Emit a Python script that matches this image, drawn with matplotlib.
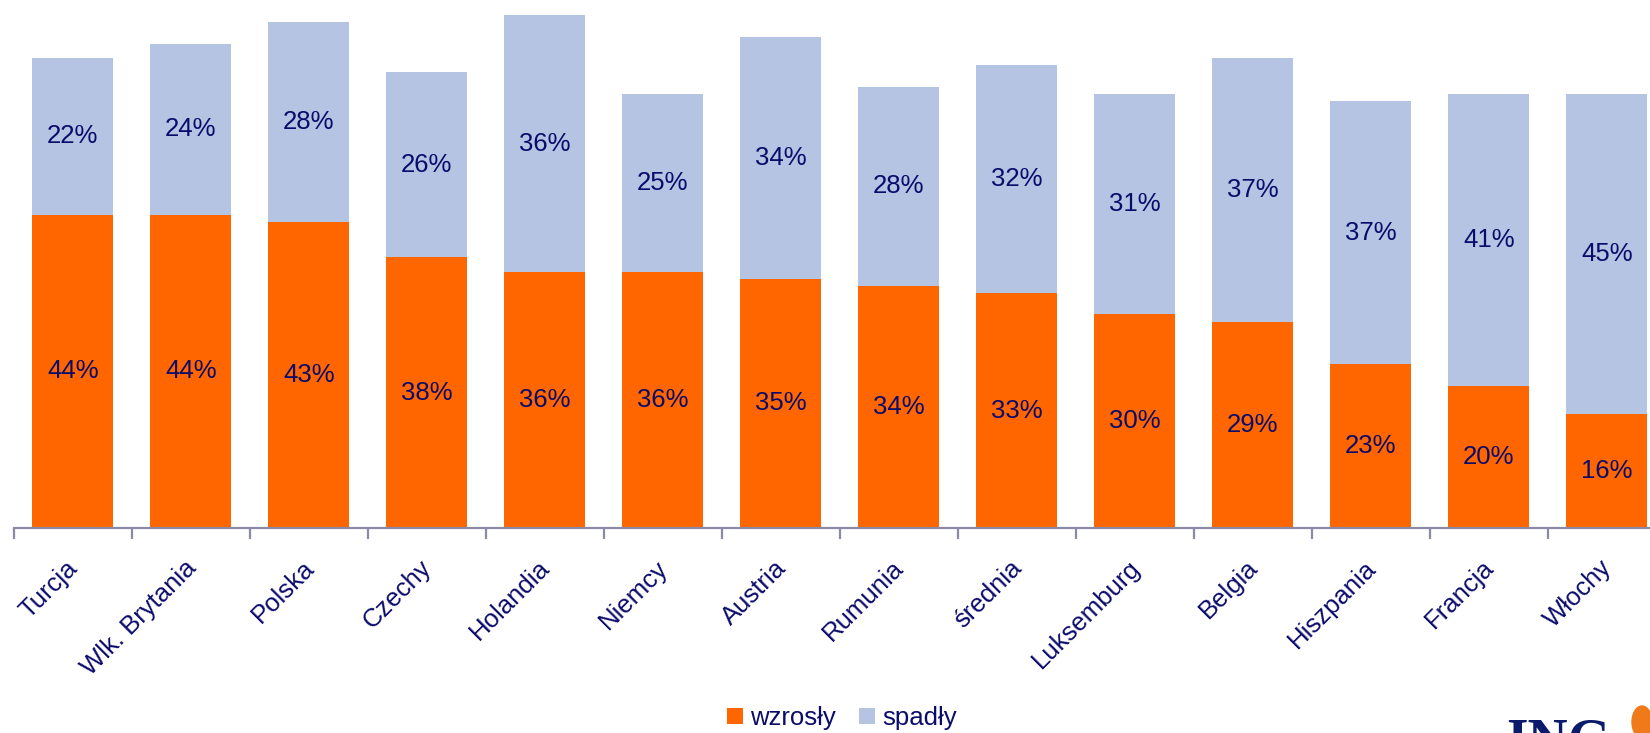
import matplotlib.pyplot as plt
import numpy as np
from matplotlib.patches import Ellipse
import matplotlib.transforms as mtransforms

plt.rcParams['font.family'] = ['Liberation Sans', 'DejaVu Sans']

# data
countries = ['Turcja', 'Wlk. Brytania', 'Polska', 'Czechy', 'Holandia', 'Niemcy',
             'Austria', 'Rumunia', 'średnia', 'Luksemburg', 'Belgia', 'Hiszpania',
             'Francja', 'Włochy']
wzrosly = [44, 44, 43, 38, 36, 36, 35, 34, 33, 30, 29, 23, 20, 16]
spadly = [22, 24, 28, 26, 36, 25, 34, 28, 32, 31, 37, 37, 41, 45]

orange = '#FF6600'
blue = '#B4C4E2'
navy = '#0B0B6B'

W, H = 1650, 733
fig = plt.figure(figsize=(16.5, 7.33), dpi=100)
# axes: category width 118 px, first boundary at x=13.7, baseline at y=528
px_per_pct = 7.12
ymax = 74
ax = fig.add_axes([13.7 / W, (H - 528) / H, 14 * 118 / W, ymax * px_per_pct / H])

x = np.arange(len(countries))
ax.bar(x, wzrosly, width=0.69, color=orange, label='wzrosły')
ax.bar(x, spadly, width=0.69, bottom=wzrosly, color=blue, label='spadły')

for i in range(len(countries)):
    ax.text(x[i], wzrosly[i] / 2, f'{wzrosly[i]}%', ha='center', va='center',
            fontsize=18.5, color=navy)
    ax.text(x[i], wzrosly[i] + spadly[i] / 2, f'{spadly[i]}%', ha='center',
            va='center', fontsize=18.5, color=navy)

ax.set_xlim(-0.5, len(countries) - 0.5)
ax.set_ylim(0, ymax)
for s in ['top', 'right', 'left']:
    ax.spines[s].set_visible(False)
ax.spines['bottom'].set_color('#8A8AA6')
ax.spines['bottom'].set_linewidth(1.6)
ax.set_yticks([])

ax.set_xticks(x)
ax.set_xticklabels(countries, rotation=45, ha='right', fontsize=18.5, color=navy)
ax.tick_params(axis='x', which='major', length=0, pad=20)
ax.set_xticks(np.arange(-0.5, len(countries), 1), minor=True)
ax.tick_params(axis='x', which='minor', length=8, width=1.6, color='#8A8AA6')
offset = mtransforms.ScaledTranslation(10 / 100, 0, fig.dpi_scale_trans)
for lbl in ax.get_xticklabels():
    lbl.set_transform(lbl.get_transform() + offset)

fig.legend(loc='center', bbox_to_anchor=(842 / W, 1 - 718 / H), ncol=2,
           frameon=False, fontsize=18.5, handlelength=0.6, handleheight=0.6,
           handletextpad=0.3, columnspacing=0.9, labelcolor=navy)

# ING logo, cut by the bottom edge as in the reference
fig.text(1506 / W, 1 - 717 / H, 'ING', fontsize=40, fontweight='bold',
         family='Liberation Serif', color='#0B1A6B', ha='left', va='top')
fig.patches.append(Ellipse((1642 / W, 1 - 722 / H), 20 / W, 32 / H,
                           transform=fig.transFigure, color='#F07A1A', figure=fig))

fig.savefig('out.png', dpi=100)
